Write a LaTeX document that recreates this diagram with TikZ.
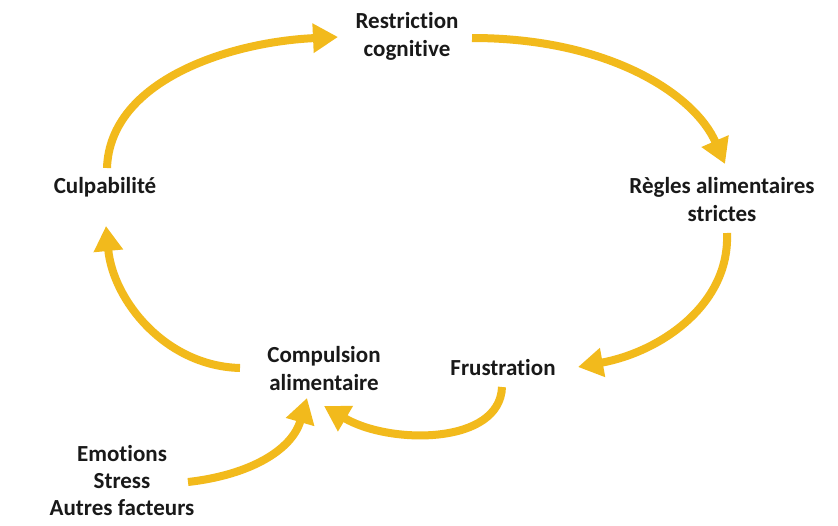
\documentclass[tikz,border=0pt]{standalone}
\usepackage{fontspec}
\setmainfont[Ligatures={NoCommon}]{Carlito}
\usetikzlibrary{arrows.meta}
\definecolor{gold}{RGB}{242,186,28}
\begin{document}
\begin{tikzpicture}[x=1pt,y=-1pt,
  lbl/.style={font=\bfseries\fontsize{23}{28}\selectfont, align=center, inner sep=0pt, text=black!90},
  cyc/.style={draw=gold, line width=8pt, -{Triangle[length=25pt,width=28pt]}}]
\useasboundingbox[fill=white] (0,0) rectangle (838,525);
\node[lbl] (res) at (407,36) {Restriction\\cognitive};
\node[lbl] (reg) at (722,200) {Règles alimentaires\\strictes};
\node[lbl] (fru) at (503,368) {Frustration};
\node[lbl] (com) at (324,369) {Compulsion\\alimentaire};
\node[lbl] (cul) at (105,187) {Culpabilité};
\node[lbl, font=\bfseries\fontsize{23}{27}\selectfont] (emo) at (122,481) {Emotions\\Stress\\Autres facteurs};
% connector end points next to the labels
\coordinate (culA) at (107,168);
\coordinate (resA) at (338,37);
\coordinate (resB) at (472,38);
\coordinate (regA) at (725,164);
\coordinate (regB) at (727,233);
\coordinate (fruA) at (578,367);
\coordinate (fruB) at (502,387);
\coordinate (comA) at (324,406);
\coordinate (comB) at (307,398);
\coordinate (comC) at (240,368);
\coordinate (culB) at (106,226);
\coordinate (emoA) at (188,482);
\draw[cyc] (culA) .. controls (110,80) and (230,42) .. (resA);
\draw[cyc] (resB) .. controls (610,38) and (695,95) .. (regA);
\draw[cyc] (regB) .. controls (730,305) and (660,352) .. (fruA);
\draw[cyc] (fruB) .. controls (500,445) and (390,445) .. (comA);
\draw[cyc] (emoA) .. controls (250,475) and (292,450) .. (comB);
\draw[cyc] (comC) .. controls (165,366) and (113,300) .. (culB);
\end{tikzpicture}
\end{document}
